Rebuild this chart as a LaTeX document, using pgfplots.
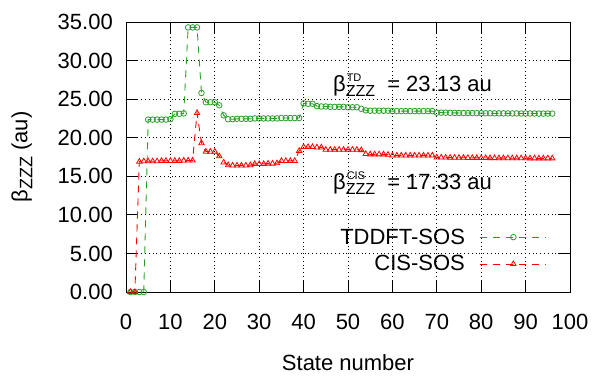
\documentclass[border=0pt]{standalone}
\usepackage{fontspec}
\setmainfont{Liberation Sans}
\usepackage{pgfplots}
\pgfplotsset{compat=1.18}
\definecolor{tdgreen}{RGB}{40,160,40}
\definecolor{cisred}{RGB}{255,0,0}
\newcommand{\bsup}[1]{β\makebox[0pt][l]{\hspace{1pt}\raisebox{10pt}{\fontsize{11}{11}\selectfont #1}}\raisebox{-5pt}{\fontsize{16}{16}\selectfont ZZZ}}
\begin{document}
\begin{tikzpicture}[font=\fontsize{22}{26}\selectfont]
\path[use as bounding box] (-126pt,-84pt) rectangle (468pt,292pt);
\begin{axis}[
  at={(0pt,0pt)}, anchor=south west,
  scale only axis, width=444pt, height=270pt,
  xmin=0, xmax=100, ymin=0, ymax=35,
  xtick={0,10,...,100}, ytick={0,5,...,35},
  tick pos=both, tick align=inside, major tick length=12pt,
  every tick/.style={black, line width=0.9pt},
  axis line style={black, line width=0.9pt},
  grid=major,
  major grid style={black, line width=0.8pt, dash pattern=on 0.8pt off 3pt},
  /pgf/number format/assume math mode=true,
  yticklabel style={/pgf/number format/.cd, fixed, fixed zerofill, precision=2, /tikz/.cd, anchor=east, inner sep=0pt, xshift=-13pt},
  xticklabel style={anchor=base, inner sep=0pt, yshift=-37.5pt},
  xlabel={State number},
  xlabel style={at={(axis description cs:0.5,-0.263)}, anchor=center},
  ylabel={β\raisebox{-5pt}{\fontsize{18}{18}\selectfont ZZZ} (au)},
  ylabel style={at={(axis description cs:-0.2342,0.5)}, anchor=center, rotate=0},
  legend plot pos=right,
  legend cell align=right,
  legend style={draw=none, fill=none, at={(rel axis cs:0.955,0.25)}, anchor=north east,
    column sep=13pt, row sep=6pt, nodes={inner sep=2pt}},
  legend image code/.code={\draw[mark repeat=2,mark phase=2,#1] plot coordinates {(0pt,0pt) (33pt,0pt) (66pt,0pt)};},
]
\addplot[tdgreen, line width=0.9pt, dash pattern=on 7pt off 6pt, mark=o, mark size=2.8pt, mark options={solid, line width=0.8pt}] table {
x y
1 0
2 0
3 0
4 0
5 22.35
6 22.35
7 22.35
8 22.35
9 22.35
10 22.4
11 23.1
12 23.1
13 23.15
14 34.3
15 34.3
16 34.3
17 25.8
18 24.6
19 24.6
20 24.6
21 24.2
22 22.9
23 22.4
24 22.4
25 22.45
26 22.45
27 22.45
28 22.45
29 22.5
30 22.5
31 22.5
32 22.5
33 22.5
34 22.5
35 22.55
36 22.55
37 22.55
38 22.55
39 22.55
40 24.45
41 24.4
42 24.4
43 24.1
44 24.05
45 24.05
46 24.0
47 24.0
48 24.0
49 24.0
50 23.95
51 23.95
52 23.95
53 23.75
54 23.55
55 23.5
56 23.5
57 23.5
58 23.5
59 23.5
60 23.45
61 23.45
62 23.45
63 23.45
64 23.45
65 23.45
66 23.45
67 23.45
68 23.45
69 23.45
70 23.25
71 23.25
72 23.24
73 23.23
74 23.22
75 23.21
76 23.2
77 23.2
78 23.2
79 23.19
80 23.18
81 23.17
82 23.17
83 23.16
84 23.16
85 23.16
86 23.15
87 23.15
88 23.15
89 23.14
90 23.14
91 23.14
92 23.14
93 23.13
94 23.13
95 23.13
96 23.13
};
\addlegendentry{TDDFT-SOS}
\addplot[cisred, line width=0.9pt, dash pattern=on 7pt off 6pt, mark=triangle, mark size=3.1pt, mark options={solid, line width=0.8pt}] table {
x y
1 0
2 0
3 16.9
4 16.95
5 16.95
6 16.95
7 16.95
8 17.0
9 17.0
10 17.0
11 17.0
12 17.0
13 17.05
14 17.05
15 17.05
16 23.2
17 19.3
18 18.2
19 18.2
20 18.2
21 17.6
22 16.8
23 16.45
24 16.4
25 16.4
26 16.4
27 16.4
28 16.45
29 16.6
30 16.6
31 16.6
32 16.65
33 16.65
34 16.7
35 17.0
36 17.0
37 17.0
38 17.0
39 18.3
40 18.8
41 18.8
42 18.8
43 18.75
44 18.75
45 18.45
46 18.45
47 18.45
48 18.45
49 18.45
50 18.45
51 18.45
52 18.45
53 18.4
54 17.9
55 17.85
56 17.85
57 17.85
58 17.85
59 17.8
60 17.7
61 17.7
62 17.7
63 17.7
64 17.7
65 17.7
66 17.7
67 17.7
68 17.7
69 17.7
70 17.45
71 17.44
72 17.43
73 17.42
74 17.41
75 17.4
76 17.4
77 17.39
78 17.38
79 17.38
80 17.37
81 17.37
82 17.36
83 17.36
84 17.35
85 17.35
86 17.35
87 17.34
88 17.34
89 17.34
90 17.34
91 17.33
92 17.33
93 17.33
94 17.33
95 17.33
96 17.33
};
\addlegendentry{CIS-SOS}
\node[anchor=base west, inner sep=0pt] at (axis cs:46.6,25.97) {\bsup{TD}\ \ = 23.13 au};
\node[anchor=base west, inner sep=0pt] at (axis cs:46.6,13.35) {\bsup{CIS}\ \ = 17.33 au};
\end{axis}
\end{tikzpicture}
\end{document}
